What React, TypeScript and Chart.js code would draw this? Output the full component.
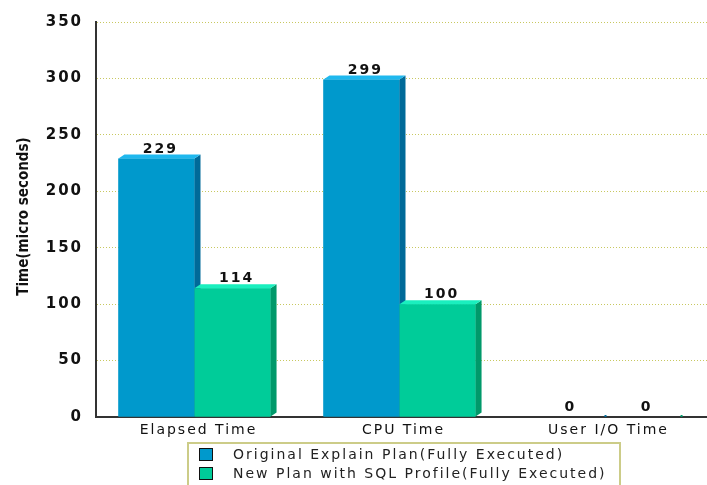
import React, { useEffect, useRef } from 'react';
import { Chart, registerables } from 'chart.js';

Chart.register(...registerables);

const categories = ['Elapsed Time', 'CPU Time', 'User I/O Time'];
const originalPlan = [229, 299, 0];
const sqlProfilePlan = [114, 100, 0];
const seriesLabels = [
  'Original Explain Plan(Fully Executed)',
  'New Plan with SQL Profile(Fully Executed)',
];
const yMin = 0;
const yMax = 350;
const yStep = 50;
const yAxisTitle = 'Time(micro seconds)';

const FRONT = ['#0099CC', '#00CC99'];
const TOP = ['#1FB8EE', '#1AEFBE'];
const SIDE = ['#006A99', '#00996A'];
const DX = 6;
const DY = 4;
const SHIFT = 4;
const SPACING = '2px';

const bar3d = {
  id: 'bar3d',
  beforeDraw(chart: any) {
    chart.ctx.letterSpacing = SPACING;
  },
  beforeDatasetsDraw(chart: any) {
    chart.ctx.save();
    chart.ctx.translate(-SHIFT, 0);
  },
  afterDatasetsDraw(chart: any) {
    const ctx = chart.ctx;
    chart.data.datasets.forEach((ds: any, di: number) => {
      const meta = chart.getDatasetMeta(di);
      meta.data.forEach((el: any) => {
        const { x, y, base, width } = el.getProps(['x', 'y', 'base', 'width'], true);
        const x0 = x - width / 2;
        const x1 = x + width / 2;
        const h = base - y;
        if (h < 1) {
          // empty bar: only the tiny edge of the side face shows on the axis
          ctx.fillStyle = SIDE[di];
          ctx.fillRect(x1, base - 2, 2, 2);
          return;
        }
        ctx.fillStyle = FRONT[di];
        ctx.fillRect(x0, y, width, h);
        ctx.fillStyle = SIDE[di];
        ctx.beginPath();
        ctx.moveTo(x1, base);
        ctx.lineTo(x1 + DX, base - DY);
        ctx.lineTo(x1 + DX, y - DY);
        ctx.lineTo(x1, y);
        ctx.closePath();
        ctx.fill();
        ctx.fillStyle = TOP[di];
        ctx.beginPath();
        ctx.moveTo(x0, y);
        ctx.lineTo(x0 + DX, y - DY);
        ctx.lineTo(x1 + DX, y - DY);
        ctx.lineTo(x1, y);
        ctx.closePath();
        ctx.fill();
      });
    });
    ctx.fillStyle = '#111';
    ctx.font = 'bold 14px "DejaVu Sans"';
    ctx.textAlign = 'center';
    ctx.textBaseline = 'alphabetic';
    chart.data.datasets.forEach((ds: any, di: number) => {
      const meta = chart.getDatasetMeta(di);
      meta.data.forEach((el: any, i: number) => {
        const { x, y } = el.getProps(['x', 'y'], true);
        ctx.fillText(String(ds.data[i]), x + DX / 2 + 1, y - DY - 2);
      });
    });
    ctx.restore();
  },
  afterDraw(chart: any) {
    const ctx = chart.ctx;
    const area = chart.chartArea;
    ctx.save();
    ctx.letterSpacing = '0px';
    ctx.translate(24, (area.top + area.bottom) / 2 - 3);
    ctx.rotate(-Math.PI / 2);
    ctx.font = 'bold 15px "DejaVu Sans Condensed", "DejaVu Sans"';
    ctx.fillStyle = '#111';
    ctx.textAlign = 'center';
    ctx.textBaseline = 'middle';
    ctx.fillText(yAxisTitle, 0, 0);
    ctx.restore();

    ctx.save();
    ctx.letterSpacing = SPACING;
    ctx.strokeStyle = '#cccc88';
    ctx.lineWidth = 2;
    ctx.strokeRect(188, 443, 432, 50);
    ctx.font = '14px "DejaVu Sans"';
    ctx.textAlign = 'left';
    ctx.textBaseline = 'alphabetic';
    chart.data.datasets.forEach((ds: any, di: number) => {
      const top = 448 + di * 19;
      ctx.fillStyle = ds.backgroundColor;
      ctx.fillRect(199.5, top + 0.5, 13, 12);
      ctx.strokeStyle = '#111';
      ctx.lineWidth = 1;
      ctx.strokeRect(199.5, top + 0.5, 13, 12);
      ctx.fillStyle = '#222';
      ctx.fillText(ds.label, 233, top + 10.5);
    });
    ctx.restore();
  },
};

export default function App() {
  const ref = useRef<HTMLCanvasElement | null>(null);

  useEffect(() => {
    if (!ref.current) return;
    const chart = new Chart(ref.current, {
      type: 'bar',
      data: {
        labels: categories,
        datasets: [
          {
            label: seriesLabels[0],
            data: originalPlan,
            backgroundColor: FRONT[0],
            categoryPercentage: 0.742,
            barPercentage: 1,
          },
          {
            label: seriesLabels[1],
            data: sqlProfilePlan,
            backgroundColor: FRONT[1],
            categoryPercentage: 0.742,
            barPercentage: 1,
          },
        ],
      },
      options: {
        responsive: false,
        animation: false,
        devicePixelRatio: 1,
        layout: { padding: { top: 17, left: 0, right: 0, bottom: 0 } },
        plugins: {
          legend: { display: false },
          tooltip: { enabled: false },
        },
        scales: {
          x: {
            grid: { display: false, drawTicks: false },
            border: { display: true, color: '#333', width: 2 },
            ticks: {
              font: { family: '"DejaVu Sans"', size: 14 },
              color: '#111',
              padding: 5,
              maxRotation: 0,
              minRotation: 0,
              autoSkip: false,
            },
            afterFit: (s: any) => {
              s.height = 68;
            },
          },
          y: {
            min: yMin,
            max: yMax,
            grid: { color: '#c8c860', lineWidth: 1, drawTicks: false },
            border: { display: true, color: '#333', width: 2, dash: [1, 2] },
            ticks: {
              stepSize: yStep,
              font: { family: '"DejaVu Sans"', size: 15, weight: 'bold' },
              color: '#111',
              padding: 13,
            },
            afterFit: (s: any) => {
              s.width = 96;
            },
          },
        },
      },
      plugins: [bar3d],
    });
    return () => chart.destroy();
  }, []);

  return (
    <div
      style={{
        position: 'fixed',
        left: 0,
        top: 0,
        width: 707,
        height: 485,
        overflow: 'hidden',
        background: '#fff',
      }}
    >
      <canvas ref={ref} width={711} height={485} style={{ display: 'block' }} />
    </div>
  );
}
